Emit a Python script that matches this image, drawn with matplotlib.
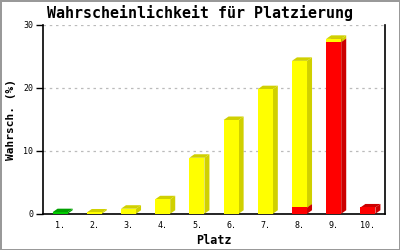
import numpy as np
import matplotlib
matplotlib.use('Agg')
import matplotlib.pyplot as plt

# data
plaetze = ['1.', '2.', '3.', '4.', '5.', '6.', '7.', '8.', '9.', '10.']
gruen = [0.25, 0, 0, 0, 0, 0, 0, 0, 0, 0]
rot = [0, 0, 0, 0, 0, 0, 0, 1.0, 27.3, 1.0]
gelb = [0, 0.2, 0.8, 2.3, 8.9, 14.9, 19.8, 23.3, 0.5, 0]

series = [(gruen, '#00cc00', '#00a000'),
          (rot, '#ff0000', '#cc0000'),
          (gelb, '#ffff00', '#d0d000')]

fig = plt.figure(figsize=(4, 2.5), dpi=100)
fig.patch.set_edgecolor('#999999')
fig.patch.set_linewidth(2)
ax = fig.add_axes([0.1075, 0.145, 0.855, 0.755])

x = np.arange(len(plaetze))
w = 0.44
ax.set_xlim(-0.5, len(plaetze) - 0.5)
ax.set_ylim(0, 30)

# 3d depth in data units (about 4-5 px)
bbox = ax.get_window_extent()
dx = 5 * (len(plaetze)) / bbox.width
dy = 3.5 * 30 / bbox.height

bottom = np.zeros(len(plaetze))
for vals, col, dark in series:
    vals = np.array(vals)
    for i in range(len(plaetze)):
        if vals[i] <= 0:
            continue
        x0, x1 = x[i] - w / 2, x[i] + w / 2
        y0, y1 = bottom[i], bottom[i] + vals[i]
        # side
        ax.fill([x1, x1 + dx, x1 + dx, x1], [y0, y0 + dy, y1 + dy, y1],
                color=dark, lw=0, zorder=3)
        # top
        ax.fill([x0, x1, x1 + dx, x0 + dx], [y1, y1, y1 + dy, y1 + dy],
                color=dark, lw=0, zorder=3)
    ax.bar(x, vals, w, bottom=bottom, color=col, lw=0, zorder=4)
    bottom += vals

mono = 'DejaVu Sans Mono'
ax.set_yticks([0, 10, 20, 30])
ax.set_xticks(x)
ax.set_xticklabels(plaetze, family=mono, fontsize=6)
ax.tick_params(axis='y', labelsize=6, length=5, width=1, pad=2)
ax.tick_params(axis='x', length=0, pad=5)
for t in ax.get_yticklabels():
    t.set_family(mono)
ax.yaxis.grid(True, color='#bbbbbb', linestyle=(0, (2, 3)), lw=0.9)
ax.set_axisbelow(True)
ax.spines['top'].set_visible(False)
for s in ['left', 'right', 'bottom']:
    ax.spines[s].set_linewidth(1.2)

ax.set_xlabel('Platz', family=mono, fontweight='bold', fontsize=8.5, labelpad=3)
ax.set_ylabel('Wahrsch. (%)', family=mono, fontweight='bold', fontsize=8, labelpad=5)
fig.suptitle('Wahrscheinlichkeit für Platzierung', family=mono,
             fontweight='bold', fontsize=10.8, y=0.98)

fig.savefig('out.png', dpi=100)
